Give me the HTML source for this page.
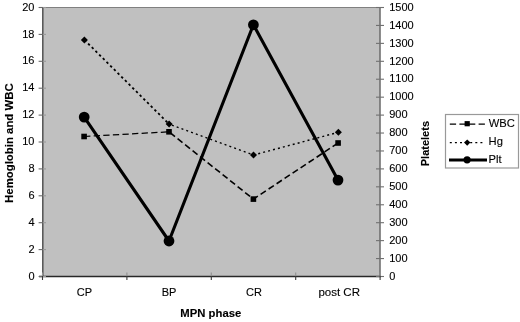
<!DOCTYPE html><html><head><meta charset="utf-8"><style>html,body{margin:0;padding:0;background:#fff;width:520px;height:322px;overflow:hidden}svg{display:block;will-change:transform}text{font-kerning:none;font-family:"Liberation Sans",sans-serif;fill:#000;stroke:#000;stroke-width:0.12px}</style></head><body>
<svg width="520" height="322" viewBox="0 0 520 322">
<g>
<rect x="42" y="7" width="338" height="270" fill="#c0c0c0"/>
<line x1="42" y1="7.5" x2="381" y2="7.5" stroke="#808080" stroke-width="1"/>
<line x1="42.8" y1="7" x2="42.8" y2="277" stroke="#5a5a5a" stroke-width="1.6"/>
<line x1="380" y1="7" x2="380" y2="277" stroke="#707070" stroke-width="1.6"/>
<line x1="39" y1="276.5" x2="381" y2="276.5" stroke="#282828" stroke-width="1.3"/>
<line x1="38.6" y1="276.50" x2="43" y2="276.50" stroke="#6a6a6a" stroke-width="1.1"/>
<line x1="43" y1="276.50" x2="46" y2="276.50" stroke="#999" stroke-width="1.1"/>
<text x="34.5" y="279.60" font-size="11" text-anchor="end">0</text>
<line x1="38.6" y1="249.60" x2="43" y2="249.60" stroke="#6a6a6a" stroke-width="1.1"/>
<line x1="43" y1="249.60" x2="46" y2="249.60" stroke="#999" stroke-width="1.1"/>
<text x="34.5" y="252.70" font-size="11" text-anchor="end">2</text>
<line x1="38.6" y1="222.70" x2="43" y2="222.70" stroke="#6a6a6a" stroke-width="1.1"/>
<line x1="43" y1="222.70" x2="46" y2="222.70" stroke="#999" stroke-width="1.1"/>
<text x="34.5" y="225.80" font-size="11" text-anchor="end">4</text>
<line x1="38.6" y1="195.80" x2="43" y2="195.80" stroke="#6a6a6a" stroke-width="1.1"/>
<line x1="43" y1="195.80" x2="46" y2="195.80" stroke="#999" stroke-width="1.1"/>
<text x="34.5" y="198.90" font-size="11" text-anchor="end">6</text>
<line x1="38.6" y1="168.90" x2="43" y2="168.90" stroke="#6a6a6a" stroke-width="1.1"/>
<line x1="43" y1="168.90" x2="46" y2="168.90" stroke="#999" stroke-width="1.1"/>
<text x="34.5" y="172.00" font-size="11" text-anchor="end">8</text>
<line x1="38.6" y1="142.00" x2="43" y2="142.00" stroke="#6a6a6a" stroke-width="1.1"/>
<line x1="43" y1="142.00" x2="46" y2="142.00" stroke="#999" stroke-width="1.1"/>
<text x="34.5" y="145.10" font-size="11" text-anchor="end">10</text>
<line x1="38.6" y1="115.10" x2="43" y2="115.10" stroke="#6a6a6a" stroke-width="1.1"/>
<line x1="43" y1="115.10" x2="46" y2="115.10" stroke="#999" stroke-width="1.1"/>
<text x="34.5" y="118.20" font-size="11" text-anchor="end">12</text>
<line x1="38.6" y1="88.20" x2="43" y2="88.20" stroke="#6a6a6a" stroke-width="1.1"/>
<line x1="43" y1="88.20" x2="46" y2="88.20" stroke="#999" stroke-width="1.1"/>
<text x="34.5" y="91.30" font-size="11" text-anchor="end">14</text>
<line x1="38.6" y1="61.30" x2="43" y2="61.30" stroke="#6a6a6a" stroke-width="1.1"/>
<line x1="43" y1="61.30" x2="46" y2="61.30" stroke="#999" stroke-width="1.1"/>
<text x="34.5" y="64.40" font-size="11" text-anchor="end">16</text>
<line x1="38.6" y1="34.40" x2="43" y2="34.40" stroke="#6a6a6a" stroke-width="1.1"/>
<line x1="43" y1="34.40" x2="46" y2="34.40" stroke="#999" stroke-width="1.1"/>
<text x="34.5" y="37.50" font-size="11" text-anchor="end">18</text>
<line x1="38.6" y1="7.50" x2="43" y2="7.50" stroke="#6a6a6a" stroke-width="1.1"/>
<line x1="43" y1="7.50" x2="46" y2="7.50" stroke="#999" stroke-width="1.1"/>
<text x="34.5" y="10.60" font-size="11" text-anchor="end">20</text>
<line x1="376" y1="276.50" x2="384" y2="276.50" stroke="#707070" stroke-width="1.1"/>
<text x="389.2" y="279.70" font-size="11">0</text>
<line x1="376" y1="258.57" x2="384" y2="258.57" stroke="#707070" stroke-width="1.1"/>
<text x="389.2" y="261.77" font-size="11">100</text>
<line x1="376" y1="240.63" x2="384" y2="240.63" stroke="#707070" stroke-width="1.1"/>
<text x="389.2" y="243.83" font-size="11">200</text>
<line x1="376" y1="222.70" x2="384" y2="222.70" stroke="#707070" stroke-width="1.1"/>
<text x="389.2" y="225.90" font-size="11">300</text>
<line x1="376" y1="204.77" x2="384" y2="204.77" stroke="#707070" stroke-width="1.1"/>
<text x="389.2" y="207.97" font-size="11">400</text>
<line x1="376" y1="186.83" x2="384" y2="186.83" stroke="#707070" stroke-width="1.1"/>
<text x="389.2" y="190.03" font-size="11">500</text>
<line x1="376" y1="168.90" x2="384" y2="168.90" stroke="#707070" stroke-width="1.1"/>
<text x="389.2" y="172.10" font-size="11">600</text>
<line x1="376" y1="150.97" x2="384" y2="150.97" stroke="#707070" stroke-width="1.1"/>
<text x="389.2" y="154.17" font-size="11">700</text>
<line x1="376" y1="133.03" x2="384" y2="133.03" stroke="#707070" stroke-width="1.1"/>
<text x="389.2" y="136.23" font-size="11">800</text>
<line x1="376" y1="115.10" x2="384" y2="115.10" stroke="#707070" stroke-width="1.1"/>
<text x="389.2" y="118.30" font-size="11">900</text>
<line x1="376" y1="97.17" x2="384" y2="97.17" stroke="#707070" stroke-width="1.1"/>
<text x="389.2" y="100.37" font-size="11">1000</text>
<line x1="376" y1="79.23" x2="384" y2="79.23" stroke="#707070" stroke-width="1.1"/>
<text x="389.2" y="82.43" font-size="11">1100</text>
<line x1="376" y1="61.30" x2="384" y2="61.30" stroke="#707070" stroke-width="1.1"/>
<text x="389.2" y="64.50" font-size="11">1200</text>
<line x1="376" y1="43.37" x2="384" y2="43.37" stroke="#707070" stroke-width="1.1"/>
<text x="389.2" y="46.57" font-size="11">1300</text>
<line x1="376" y1="25.43" x2="384" y2="25.43" stroke="#707070" stroke-width="1.1"/>
<text x="389.2" y="28.63" font-size="11">1400</text>
<line x1="376" y1="7.50" x2="384" y2="7.50" stroke="#707070" stroke-width="1.1"/>
<text x="389.2" y="10.70" font-size="11">1500</text>
<line x1="42.50" y1="272.5" x2="42.50" y2="276" stroke="#909090" stroke-width="1.1"/>
<line x1="42.50" y1="276" x2="42.50" y2="280" stroke="#383838" stroke-width="1.1"/>
<line x1="126.90" y1="272.5" x2="126.90" y2="276" stroke="#909090" stroke-width="1.1"/>
<line x1="126.90" y1="276" x2="126.90" y2="280" stroke="#383838" stroke-width="1.1"/>
<line x1="211.30" y1="272.5" x2="211.30" y2="276" stroke="#909090" stroke-width="1.1"/>
<line x1="211.30" y1="276" x2="211.30" y2="280" stroke="#383838" stroke-width="1.1"/>
<line x1="295.70" y1="272.5" x2="295.70" y2="276" stroke="#909090" stroke-width="1.1"/>
<line x1="295.70" y1="276" x2="295.70" y2="280" stroke="#383838" stroke-width="1.1"/>
<line x1="380.10" y1="272.5" x2="380.10" y2="276" stroke="#909090" stroke-width="1.1"/>
<line x1="380.10" y1="276" x2="380.10" y2="280" stroke="#383838" stroke-width="1.1"/>
<text x="84.4" y="295.8" font-size="11" text-anchor="middle">CP</text>
<text x="169.0" y="295.8" font-size="11" text-anchor="middle">BP</text>
<text x="254.0" y="295.8" font-size="11" text-anchor="middle">CR</text>
<text x="339.2" y="295.8" font-size="11" text-anchor="middle" textLength="41.6" lengthAdjust="spacingAndGlyphs">post CR</text>
<text x="210.8" y="316.7" font-size="11.3" font-weight="bold" stroke-width="0" text-anchor="middle">MPN phase</text>
<text transform="translate(12.9,143.1) rotate(-90)" font-size="11.4" font-weight="bold" stroke-width="0" text-anchor="middle">Hemoglobin and WBC</text>
<text transform="translate(428.6,143.6) rotate(-90)" font-size="11.0" font-weight="bold" stroke-width="0" text-anchor="middle">Platelets</text>
<line x1="84.1" y1="136.5" x2="169.0" y2="131.8" stroke="#000" stroke-width="1.25" stroke-dasharray="6.3 3.3" stroke-dashoffset="0.00"/>
<line x1="169.0" y1="131.8" x2="253.4" y2="199.1" stroke="#000" stroke-width="1.6" stroke-dasharray="6.3 3.3" stroke-dashoffset="85.03"/>
<line x1="253.4" y1="199.1" x2="338.1" y2="143.0" stroke="#000" stroke-width="1.6" stroke-dasharray="6.3 3.3" stroke-dashoffset="192.98"/>
<line x1="84.4" y1="39.9" x2="169.1" y2="124.1" stroke="#000" stroke-width="1.8" stroke-dasharray="2.4 2.8" stroke-dashoffset="0.00"/>
<line x1="169.1" y1="124.1" x2="253.5" y2="155.0" stroke="#000" stroke-width="1.45" stroke-dasharray="2.0 3.1" stroke-dashoffset="119.43"/>
<line x1="253.5" y1="155.0" x2="338.4" y2="132.3" stroke="#000" stroke-width="1.45" stroke-dasharray="2.0 3.1" stroke-dashoffset="209.31"/>
<polyline points="84.2,117.1 169.0,241.0 253.4,24.8 338.0,180.1" fill="none" stroke="#000" stroke-width="3.1" stroke-linejoin="round"/>
<rect x="81.3" y="133.7" width="5.6" height="5.6" fill="#000"/>
<polygon points="84.4,36.4 87.9,39.9 84.4,43.4 80.9,39.9" fill="#000"/>
<circle cx="84.2" cy="117.1" r="5.4" fill="#000"/>
<rect x="166.2" y="129.0" width="5.6" height="5.6" fill="#000"/>
<polygon points="169.1,120.6 172.6,124.1 169.1,127.6 165.6,124.1" fill="#000"/>
<circle cx="169.0" cy="241.0" r="5.4" fill="#000"/>
<rect x="250.6" y="196.29999999999998" width="5.6" height="5.6" fill="#000"/>
<polygon points="253.5,151.5 257.0,155.0 253.5,158.5 250.0,155.0" fill="#000"/>
<circle cx="253.4" cy="24.8" r="5.4" fill="#000"/>
<rect x="335.3" y="140.2" width="5.6" height="5.6" fill="#000"/>
<polygon points="338.4,128.8 341.9,132.3 338.4,135.8 334.9,132.3" fill="#000"/>
<circle cx="338.0" cy="180.1" r="5.4" fill="#000"/>
<rect x="445.5" y="114.5" width="73" height="53.5" fill="#fff" stroke="#999" stroke-width="1.2"/>
<line x1="449.8" y1="124.1" x2="485" y2="124.1" stroke="#000" stroke-width="1.25" stroke-dasharray="6.3 3.3"/>
<rect x="464.6" y="121.1" width="5.2" height="5.2" fill="#000"/>
<text x="488.8" y="126.5" font-size="11.2">WBC</text>
<line x1="449.8" y1="142.6" x2="485" y2="142.6" stroke="#000" stroke-width="1.25" stroke-dasharray="2.0 3.1"/>
<polygon points="467.2,139.4 470.4,142.6 467.2,145.8 464,142.6" fill="#000"/>
<text x="488.6" y="145.4" font-size="11.2">Hg</text>
<line x1="449" y1="160" x2="487" y2="160" stroke="#000" stroke-width="3.1"/>
<circle cx="467.1" cy="159.8" r="3.6" fill="#000"/>
<text x="488.6" y="163.2" font-size="11.2">Plt</text>
</g></svg></body></html>
